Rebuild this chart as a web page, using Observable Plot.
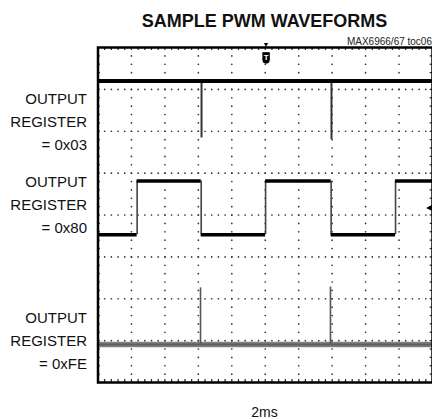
<!DOCTYPE html>
<html><head><meta charset="utf-8">
<script src="https://cdn.jsdelivr.net/npm/d3@7"></script>
<script src="https://cdn.jsdelivr.net/npm/@observablehq/plot@0.6"></script>
<style>
body{margin:0;background:#fff;font-family:"Liberation Sans",Arial,sans-serif;}
#wrap{position:relative;width:432px;height:419px;overflow:hidden;background:#fff;}
#head{position:relative;height:46px;}
#title{position:absolute;left:97px;width:335px;top:11.5px;text-align:center;font-weight:bold;font-size:18px;line-height:18px;color:#111;white-space:nowrap;}
#sub{position:absolute;right:0;top:36.5px;font-size:10px;line-height:10px;color:#222;white-space:nowrap;}
#cap{margin-top:13px;margin-left:97px;width:335px;text-align:center;font-size:14px;line-height:14px;color:#111;}
</style>
</head><body>
<div id="wrap">
  <div id="head"><div id="title"></div><div id="sub"></div></div>
  <div id="chart"></div>
  <div id="cap"></div>
</div>
<script>
// ---- text ----
const titleText = "SAMPLE PWM WAVEFORMS";
const subtitleText = "MAX6966/67 toc06";
const captionText = "2ms";

// ---- graticule: time axis in ms (2 ms/div, 10 div), vertical in divisions (8 div) ----
const timeDomain = [0, 20];
const divDomain = [-4, 4];

// ---- trace labels and the vertical level (div) each label block is centred on ----
const traceLabels = ["OUTPUT\nREGISTER\n= 0x03", "OUTPUT\nREGISTER\n= 0x80", "OUTPUT\nREGISTER\n= 0xFE"];
const labelLevels = [2.285, 0.30, -2.957];

// ---- trace 1: OUTPUT REGISTER = 0x03 (high with short low pulses) ----
const reg03High = 3.20;
const reg03PulseTimes = [6.19, 13.96];
const reg03PulseBottoms = [1.84, 1.80];

// ---- trace 2: OUTPUT REGISTER = 0x80 (50% duty square wave) ----
const reg80High = 0.81;
const reg80Low = -0.47;
const reg80EdgeTimes = [2.34, 6.17, 10.02, 13.94, 17.79]; // starts low, alternates rise/fall

// ---- trace 3: OUTPUT REGISTER = 0xFE (mostly low with short spikes) ----
const regFEBase = -3.09;
const regFESpikeTimes = [6.13, 13.90];
const regFESpikeTops = [-1.74, -1.72];

// ---- trigger markers ----
const triggerTime = 10.05;
const triggerLevel = 0.18;

document.getElementById("title").textContent = titleText;
document.getElementById("sub").textContent = subtitleText;
document.getElementById("cap").textContent = captionText;

// graticule dots (5 per division)
const vLines = d3.range(1, 10).map(k => k * 2);
const hLines = d3.range(-3, 4);
const gridDots = [];
for (const t of vLines) for (let j = 1; j < 40; j++) gridDots.push({t, v: -4 + j * 0.2});
for (const v of hLines) for (let j = 1; j < 50; j++) gridDots.push({t: j * 0.4, v});
const minorT = d3.range(1, 50).map(j => j * 0.4);
const minorV = d3.range(1, 40).map(j => -4 + j * 0.2);

// trace 2 segments
const reg80Bounds = [timeDomain[0], ...reg80EdgeTimes, timeDomain[1]];
const reg80Segs = [];
for (let i = 0; i < reg80Bounds.length - 1; i++) {
  reg80Segs.push({x1: reg80Bounds[i], x2: reg80Bounds[i + 1], y: i % 2 === 0 ? reg80Low : reg80High});
}
const reg03Pulses = reg03PulseTimes.map((t, i) => ({t, bottom: reg03PulseBottoms[i]}));
const regFESpikes = regFESpikeTimes.map((t, i) => ({t, top: regFESpikeTops[i]}));
const labelTable = traceLabels.map((label, i) => ({label, level: labelLevels[i]}));

const chart = Plot.plot({
  width: 432,
  height: 346,
  marginLeft: 97.5,
  marginRight: 0,
  marginTop: 1,
  marginBottom: 10,
  x: {domain: timeDomain, axis: null},
  y: {domain: divDomain, axis: null},
  style: {fontFamily: "'Liberation Sans', Arial, sans-serif", background: "white", overflow: "visible", display: "block"},
  marks: [
    Plot.dot(gridDots, {x: "t", y: "v", r: 0.85, fill: "#333", stroke: null}),
    Plot.ruleX(minorT, {x: d => d, y1: 4, y2: 3.93, stroke: "#222", strokeWidth: 1.2}),
    Plot.ruleX(minorT, {x: d => d, y1: -4, y2: -3.93, stroke: "#222", strokeWidth: 1.2}),
    Plot.ruleY(minorV, {y: d => d, x1: 0, x2: 0.14, stroke: "#222", strokeWidth: 1.2}),
    Plot.ruleY(minorV, {y: d => d, x1: 20, x2: 19.86, stroke: "#222", strokeWidth: 1.2}),
    // trace 3
    Plot.ruleY([regFEBase], {y: d => d, x1: timeDomain[0], x2: timeDomain[1], stroke: "#808080", strokeWidth: 5.5}),
    Plot.ruleY([regFEBase], {y: d => d, x1: timeDomain[0], x2: timeDomain[1], stroke: "#5e5e5e", strokeWidth: 2}),
    Plot.ruleX(regFESpikes, {x: "t", y1: regFEBase, y2: "top", stroke: "#555", strokeWidth: 1.6}),
    // trace 2
    Plot.ruleX(reg80EdgeTimes, {x: d => d, y1: reg80Low, y2: reg80High, stroke: "#444", strokeWidth: 1.6}),
    Plot.ruleY(reg80Segs, {y: "y", x1: "x1", x2: "x2", stroke: "#000", strokeWidth: 3.5}),
    // trace 1
    Plot.ruleX(reg03Pulses, {x: "t", y1: reg03High, y2: "bottom", stroke: "#333", strokeWidth: 2}),
    Plot.ruleY([reg03High], {y: d => d, x1: timeDomain[0], x2: timeDomain[1], stroke: "#000", strokeWidth: 4}),
    Plot.frame({stroke: "#000", strokeWidth: 2.5}),
    // trigger markers
    Plot.text([triggerTime], {x: d => d, y: divDomain[1], text: () => "▼", dy: -3, fontSize: 7, fill: "#000"}),
    Plot.dot([triggerTime], {x: d => d, y: 3.80, symbol: "square", r: 4.2, fill: "#000", stroke: null}),
    Plot.dot([triggerTime], {x: d => d, y: 3.70, symbol: "circle", r: 3.6, fill: "#000", stroke: null}),
    Plot.text([triggerTime], {x: d => d, y: 3.76, text: () => "T", fontSize: 8, fontWeight: "bold", fill: "#fff"}),
    Plot.text([triggerLevel], {x: timeDomain[1], y: d => d, text: () => "◀", dx: -1, textAnchor: "end", fontSize: 8, fill: "#000"}),
    // labels
    Plot.text(labelTable, {x: timeDomain[0], y: "level", text: "label", textAnchor: "end", dx: -11, fontSize: 15, lineHeight: 23 / 15, fill: "#111", fontFamily: "'Liberation Sans', Arial, sans-serif"})
  ]
});
document.getElementById("chart").appendChild(chart);
</script>
</body></html>
